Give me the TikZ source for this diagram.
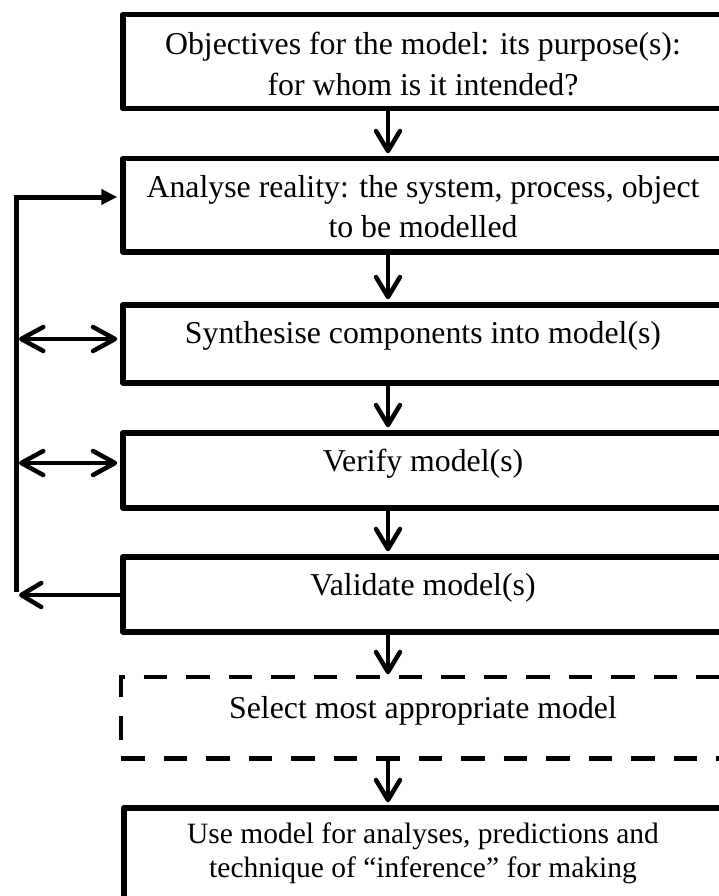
\documentclass[tikz,border=0pt]{standalone}
\usepackage{fontspec}
\setmainfont{Liberation Serif}
\usetikzlibrary{arrows.meta,calc}
\begin{document}
\begin{tikzpicture}[x=1pt,y=-1pt,
  box/.style={draw, line width=5.5pt, line join=round, anchor=north west,
    inner sep=0pt, minimum width=606pt},
  txt/.style={anchor=base, inner sep=0pt, font=\fontsize{31.8pt}{40pt}\selectfont},
  txtsmall/.style={anchor=base, inner sep=0pt, font=\fontsize{29.5pt}{34pt}\selectfont},
  flow/.style={line width=4.5pt, -{Straight Barb[length=20pt,width=24pt,round]}},
  both/.style={line width=4.5pt,
    {Straight Barb[length=22pt,width=24pt,round]}-{Straight Barb[length=22pt,width=24pt,round]}},
  tobox/.style={shorten >=2.75pt},
  fback/.style={line width=5pt, line join=miter, -{Triangle[length=16pt,width=15pt]}},
  dashbox/.style={line width=4.5pt, dash pattern=on 23.5pt off 19pt}
]
\useasboundingbox (0,0) rectangle (719,896);
\clip (0,0) rectangle (719,896);

% process boxes
\node[box, minimum height=94pt] (b1) at (120,12) {};
\node[box, minimum height=93pt] (b2) at (120,156) {};
\node[box, minimum height=78pt] (b3) at (120,302) {};
\node[box, minimum height=75pt] (b4) at (120,430) {};
\node[box, minimum height=75pt] (b5) at (120,554) {};
\node[box, draw=none, minimum height=76pt] (b6) at (121,677) {};
\node[box, minimum height=160pt] (b7) at (121,805) {};

% dashed outline of the optional selection step
\draw[dashbox, dash phase=23.5pt] (b6.south west) -- (b6.north west) -- ([xshift=10pt]b6.north east);
\draw[dashbox] (b6.south west) -- ([xshift=10pt]b6.south east);

% box texts
\node[txt] (t1a) at (423,55) {Objectives for the model: its purpose(s):};
\node[txt] (t1b) at (423,96) {for whom is it intended?};
\node[txt] (t2a) at (423,197) {Analyse reality: the system, process, object};
\node[txt] (t2b) at (423,237) {to be modelled};
\node[txt] (t3) at (423,343) {Synthesise components into model(s)};
\node[txt] (t4) at (423,471) {Verify model(s)};
\node[txt] (t5) at (423,595) {Validate model(s)};
\node[txt] (t6) at (423,718) {Select most appropriate model};
\node[txtsmall] (t7a) at (423,843) {Use model for analyses, predictions and};
\node[txtsmall] (t7b) at (423,877) {technique of “inference” for making};

% main downward flow
\coordinate (col) at (388,0);
\draw[flow, tobox] (b1.south -| col) -- (b2.north -| col);
\draw[flow, tobox] (b2.south -| col) -- (b3.north -| col);
\draw[flow, tobox] (b3.south -| col) -- (b4.north -| col);
\draw[flow, tobox] (b4.south -| col) -- (b5.north -| col);
\draw[flow, tobox] (b5.south -| col) -- (b6.north -| col);
\draw[flow, tobox] (b6.south -| col) -- (b7.north -| col);

% feedback loop on the left
\coordinate (loopTop) at (16.5,197);
\coordinate (loopBot) at (16.5,592);
\draw[fback, tobox] (loopBot) -- (loopTop) -- (loopTop -| b2.west);
\coordinate (ret) at (19,595);
\draw[flow] (ret -| b5.west) -- (ret);
\coordinate (s3) at (19,339);
\draw[both, tobox] (s3) -- (s3 -| b3.west);
\coordinate (s4) at (19,463);
\draw[both, tobox] (s4) -- (s4 -| b4.west);
\end{tikzpicture}
\end{document}
